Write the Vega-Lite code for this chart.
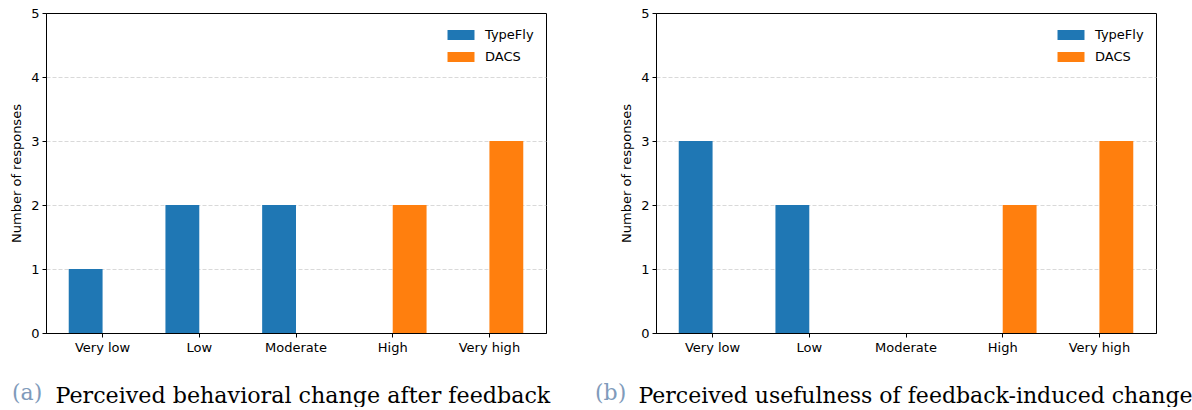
{
  "$schema": "https://vega.github.io/schema/vega-lite/v6.json",
  "padding": {"left": 10, "top": 6, "right": 0, "bottom": 0},
  "bounds": "flush",
  "spacing": 110,
  "background": "white",
  "datasets": {
    "a": [
      {"rating": "Very low", "system": "TypeFly", "count": 1},
      {"rating": "Very low", "system": "DACS", "count": 0},
      {"rating": "Low", "system": "TypeFly", "count": 2},
      {"rating": "Low", "system": "DACS", "count": 0},
      {"rating": "Moderate", "system": "TypeFly", "count": 2},
      {"rating": "Moderate", "system": "DACS", "count": 0},
      {"rating": "High", "system": "TypeFly", "count": 0},
      {"rating": "High", "system": "DACS", "count": 2},
      {"rating": "Very high", "system": "TypeFly", "count": 0},
      {"rating": "Very high", "system": "DACS", "count": 3}
    ],
    "b": [
      {"rating": "Very low", "system": "TypeFly", "count": 3},
      {"rating": "Very low", "system": "DACS", "count": 0},
      {"rating": "Low", "system": "TypeFly", "count": 2},
      {"rating": "Low", "system": "DACS", "count": 0},
      {"rating": "Moderate", "system": "TypeFly", "count": 0},
      {"rating": "Moderate", "system": "DACS", "count": 0},
      {"rating": "High", "system": "TypeFly", "count": 0},
      {"rating": "High", "system": "DACS", "count": 2},
      {"rating": "Very high", "system": "TypeFly", "count": 0},
      {"rating": "Very high", "system": "DACS", "count": 3}
    ]
  },
  "resolve": {"legend": {"color": "independent"}},
  "config": {
    "font": "DejaVu Sans",
    "view": {"stroke": "black", "strokeWidth": 1},
    "axis": {
      "domainColor": "black",
      "domainWidth": 1,
      "tickColor": "black",
      "tickSize": 4,
      "tickWidth": 1,
      "labelColor": "black",
      "labelFont": "DejaVu Sans",
      "labelFontSize": 13,
      "titleColor": "black",
      "titleFont": "DejaVu Sans",
      "titleFontSize": 13,
      "titleFontWeight": "normal"
    },
    "axisX": {"grid": false, "labelAngle": 0, "labelPadding": 4},
    "axisY": {
      "grid": true,
      "gridColor": "#cfcfcf",
      "gridDash": [4, 2],
      "gridWidth": 0.8,
      "labelPadding": 3,
      "titlePadding": 7
    },
    "legend": {
      "orient": "none",
      "title": null,
      "padding": 0,
      "symbolType": "M-2,-0.74H2V0.74H-2Z",
      "symbolSize": 182,
      "symbolStrokeWidth": 0,
      "symbolOpacity": 1,
      "labelFont": "DejaVu Sans",
      "labelFontSize": 13,
      "labelColor": "black",
      "labelOffset": 17,
      "rowPadding": 8
    },
    "title": {"font": "DejaVu Serif", "fontWeight": "normal"}
  },
  "hconcat": [
    {
      "data": {"name": "a"},
      "width": 500,
      "height": 320,
      "title": {"text": "(a)", "orient": "bottom", "anchor": "start", "frame": "group", "dx": -34, "dy": -6, "offset": 0, "baseline": "alphabetic", "color": "#7f9bbb", "font": "DejaVu Serif", "fontSize": 22, "fontWeight": "normal"},
      "mark": {"type": "bar"},
      "encoding": {
        "x": {
          "field": "rating", "type": "nominal",
          "sort": ["Very low", "Low", "Moderate", "High", "Very high"],
          "scale": {"paddingInner": 0, "paddingOuter": 0.085},
          "axis": {"title": "Perceived behavioral change after feedback", "titleX": 9, "titleY": 69, "titleAlign": "left", "titleBaseline": "alphabetic", "titleFont": "DejaVu Serif", "titleFontSize": 22.2}
        },
        "xOffset": {"field": "system", "type": "nominal", "sort": ["TypeFly", "DACS"], "scale": {"paddingInner": 0, "paddingOuter": 0.4286}},
        "y": {
          "field": "count", "type": "quantitative",
          "scale": {"domain": [0, 5], "nice": false},
          "axis": {"values": [0, 1, 2, 3, 4, 5], "title": "Number of responses", "gridOpacity": {"condition": {"test": "datum.value == 0 || datum.value == 5", "value": 0}, "value": 1}}
        },
        "color": {
          "field": "system", "type": "nominal",
          "scale": {"domain": ["TypeFly", "DACS"], "range": ["#1f77b4", "#ff7f0e"]},
          "legend": {"legendX": 408, "legendY": 15}
        }
      }
    },
    {
      "data": {"name": "b"},
      "width": 500,
      "height": 320,
      "title": {"text": "(b)", "orient": "bottom", "anchor": "start", "frame": "group", "dx": -61, "dy": -6, "offset": 0, "baseline": "alphabetic", "color": "#7f9bbb", "font": "DejaVu Serif", "fontSize": 22, "fontWeight": "normal"},
      "mark": {"type": "bar"},
      "encoding": {
        "x": {
          "field": "rating", "type": "nominal",
          "sort": ["Very low", "Low", "Moderate", "High", "Very high"],
          "scale": {"paddingInner": 0, "paddingOuter": 0.085},
          "axis": {"title": "Perceived usefulness of feedback-induced change", "titleX": -18, "titleY": 69, "titleAlign": "left", "titleBaseline": "alphabetic", "titleFont": "DejaVu Serif", "titleFontSize": 22}
        },
        "xOffset": {"field": "system", "type": "nominal", "sort": ["TypeFly", "DACS"], "scale": {"paddingInner": 0, "paddingOuter": 0.4286}},
        "y": {
          "field": "count", "type": "quantitative",
          "scale": {"domain": [0, 5], "nice": false},
          "axis": {"values": [0, 1, 2, 3, 4, 5], "title": "Number of responses", "gridOpacity": {"condition": {"test": "datum.value == 0 || datum.value == 5", "value": 0}, "value": 1}}
        },
        "color": {
          "field": "system", "type": "nominal",
          "scale": {"domain": ["TypeFly", "DACS"], "range": ["#1f77b4", "#ff7f0e"]},
          "legend": {"legendX": 408, "legendY": 15}
        }
      }
    }
  ]
}
